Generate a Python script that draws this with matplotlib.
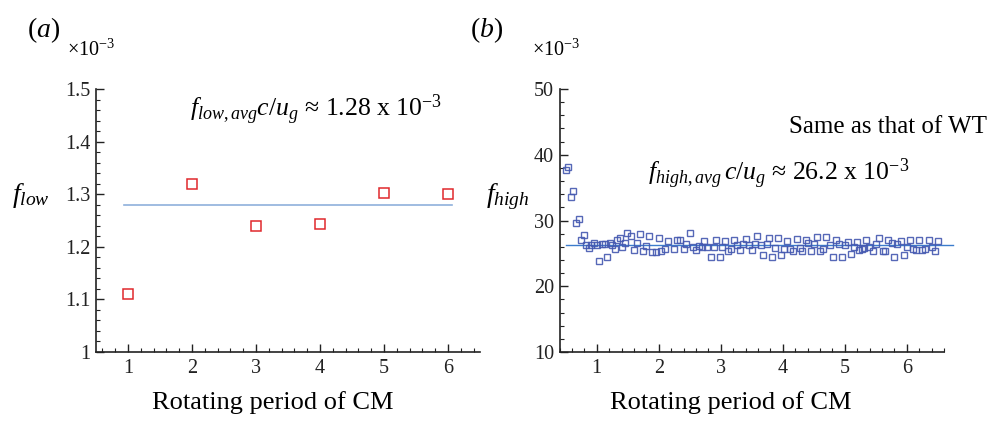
import matplotlib
matplotlib.use("Agg")
import matplotlib.pyplot as plt
from matplotlib.ticker import MultipleLocator, FormatStrFormatter

plt.rcParams["font.family"] = ["Liberation Serif", "DejaVu Serif"]
plt.rcParams["mathtext.fontset"] = "custom"
plt.rcParams["mathtext.rm"] = "Liberation Serif"
plt.rcParams["mathtext.it"] = "Liberation Serif:italic"
plt.rcParams["mathtext.bf"] = "Liberation Serif:bold"

# (a) low-frequency component per rotating period of the CM (x 1e-3)
periods_low = [1, 2, 3, 4, 5, 6]
f_low = [1.111, 1.319, 1.239, 1.243, 1.303, 1.301]
f_low_avg = 1.28

# (b) high-frequency component versus rotating period of the CM (x 1e-3)
t_high = [0.505, 0.543, 0.585, 0.622, 0.666, 0.71, 0.75, 0.793, 0.83, 0.874,
          0.915, 0.958, 1.0, 1.042, 1.088, 1.13, 1.168, 1.21, 1.25, 1.29,
          1.33, 1.37, 1.41, 1.455, 1.495, 1.545, 1.60, 1.65, 1.70, 1.75,
          1.80, 1.85, 1.895, 1.95, 2.0, 2.04, 2.095, 2.145, 2.245, 2.295,
          2.35, 2.40, 2.445, 2.50, 2.55, 2.60, 2.645, 2.69, 2.735, 2.785,
          2.835, 2.885, 2.93, 2.98, 3.026, 3.075, 3.118, 3.17, 3.214, 3.257,
          3.31, 3.36, 3.40, 3.45, 3.50, 3.548, 3.59, 3.645, 3.688, 3.74,
          3.784, 3.83, 3.88, 3.924, 3.978, 4.02, 4.075, 4.118, 4.172, 4.225,
          4.274, 4.317, 4.37, 4.413, 4.462, 4.505, 4.553, 4.602, 4.655, 4.704,
          4.757, 4.811, 4.854, 4.908, 4.951, 5.005, 5.053, 5.096, 5.145, 5.193,
          5.23, 5.274, 5.311, 5.35, 5.398, 5.451, 5.50, 5.553, 5.613, 5.65,
          5.704, 5.758, 5.80, 5.849, 5.903, 5.951, 6.0, 6.053, 6.107, 6.15,
          6.204, 6.242, 6.295, 6.355, 6.403, 6.457, 6.50]
f_high = [37.7, 38.1, 33.5, 34.5, 29.6, 30.2, 27.0, 27.75, 26.2, 25.8,
          26.3, 26.6, 26.3, 23.8, 26.5, 26.4, 24.5, 26.6, 26.3, 25.7,
          27.0, 27.3, 26.0, 26.6, 28.05, 27.7, 25.5, 26.6, 27.9, 25.4,
          26.1, 27.7, 25.2, 25.2, 27.3, 25.4, 25.6, 26.9, 25.7, 27.0,
          27.0, 25.7, 26.5, 28.1, 26.0, 25.5, 26.1, 26.0, 26.9, 26.0,
          24.5, 26.0, 27.1, 24.4, 25.9, 26.9, 25.3, 25.6, 27.1, 26.3,
          25.5, 26.4, 27.2, 26.2, 25.5, 26.5, 27.6, 26.3, 24.8, 26.5,
          27.3, 24.4, 25.8, 27.4, 24.8, 25.6, 26.9, 25.6, 25.3, 27.2,
          25.8, 25.3, 27.1, 26.6, 25.3, 26.5, 27.5, 25.4, 25.6, 27.5,
          26.3, 24.5, 27.0, 26.5, 24.5, 26.3, 26.8, 24.9, 26.0, 26.8,
          25.5, 25.6, 25.8, 27.0, 26.0, 25.3, 26.4, 27.3, 25.3, 25.4,
          27.0, 26.6, 24.5, 26.4, 26.9, 24.8, 25.9, 27.0, 25.6, 25.5,
          27.1, 25.5, 25.6, 27.0, 26.0, 25.3, 26.9]
f_high_avg = 26.2

W, H = 994, 421
fig = plt.figure(figsize=(W / 100, H / 100), dpi=100)


def px_axes(left, right, top, bottom):
    return fig.add_axes([left / W, 1 - bottom / H, (right - left) / W, (bottom - top) / H])


def style(ax):
    for s in ("top", "right"):
        ax.spines[s].set_visible(False)
    for s in ("left", "bottom"):
        ax.spines[s].set_linewidth(1.2)
        ax.spines[s].set_color("#222222")
    ax.tick_params(which="major", direction="in", length=6, width=1.0,
                   labelsize=14.5, colors="#222222", pad=5)
    ax.tick_params(which="minor", direction="in", length=3, width=0.8,
                   colors="#222222")
    ax.tick_params(axis="y", which="major", pad=4)


# ---- panel (a)
axa = px_axes(96, 480, 89, 352)
style(axa)
axa.plot(periods_low, f_low, linestyle="none", marker="s", markersize=7,
         markerfacecolor="none", markeredgecolor="#e0282c", markeredgewidth=1.1,
         clip_on=False, zorder=3)
axa.plot([0.94, 6.06], [f_low_avg, f_low_avg], color="#8fb0dc", lw=1.2)
axa.set_xlim(0.5, 6.5)
axa.set_ylim(1.0, 1.5)
axa.xaxis.set_major_locator(MultipleLocator(1))
axa.xaxis.set_minor_locator(MultipleLocator(0.2))
axa.yaxis.set_major_locator(MultipleLocator(0.1))
axa.yaxis.set_minor_locator(MultipleLocator(0.02))
axa.yaxis.set_major_formatter(FormatStrFormatter("%g"))

# ---- panel (b)
axb = px_axes(559.5, 944, 89, 352)
style(axb)
axb.plot(t_high, f_high, linestyle="none", marker="s", markersize=4.8,
         markerfacecolor="none", markeredgecolor="#4458b0", markeredgewidth=1.0,
         alpha=0.9, zorder=3)
axb.plot([0.5, 6.75], [f_high_avg, f_high_avg], color="#3c7ccc", lw=1.0,
         clip_on=False)
axb.set_xlim(0.4, 6.6)
axb.set_ylim(10, 50)
axb.xaxis.set_major_locator(MultipleLocator(1))
axb.xaxis.set_minor_locator(MultipleLocator(0.2))
axb.yaxis.set_major_locator(MultipleLocator(10))
axb.yaxis.set_minor_locator(MultipleLocator(2))
axb.yaxis.set_major_formatter(FormatStrFormatter("%g"))


def ftext(x, y, s, **kw):
    fig.text(x / W, 1 - y / H, s, **kw)


# panel tags
ftext(27, 37, r"($\mathit{a}$)", fontsize=20, ha="left", va="baseline")
ftext(470, 37, r"($\mathit{b}$)", fontsize=20, ha="left", va="baseline")

# scale factors
ftext(67, 56, "×10$^{\u22123}$", fontsize=14.5, ha="left", va="baseline")
ftext(532, 56, "×10$^{\u22123}$", fontsize=14.5, ha="left", va="baseline")

# y labels
ftext(12, 202, r"$f_{low}$", fontsize=20, ha="left", va="baseline")
ftext(486, 202, r"$f_{high}$", fontsize=20, ha="left", va="baseline")

# x labels
ftext(273, 409, "Rotating period of CM", fontsize=19, ha="center", va="baseline")
ftext(731, 409, "Rotating period of CM", fontsize=19, ha="center", va="baseline")

# annotations
ftext(190, 116, r"$f_{low,avg}c/u_g$ ≈ 1.28 x 10$^{-3}$", fontsize=18.5,
      ha="left", va="baseline")
ftext(987, 133, "Same as that of WT", fontsize=18, ha="right", va="baseline")
ftext(648, 180, r"$f_{high,avg}\,c/u_g$ ≈ 26.2 x 10$^{-3}$", fontsize=18.5,
      ha="left", va="baseline")

fig.savefig("out.png", dpi=100)
